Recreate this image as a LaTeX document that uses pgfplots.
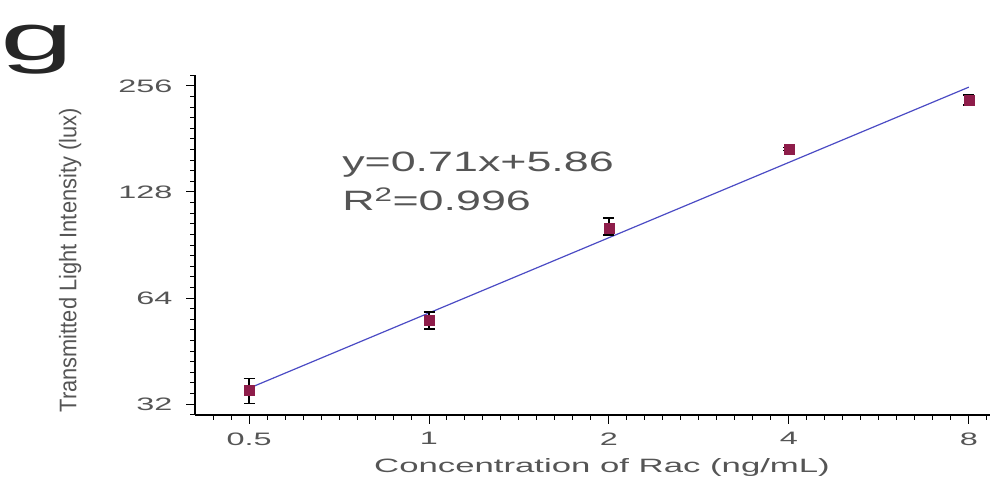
\documentclass[border=0pt]{standalone}
\usepackage{fontspec}
\setmainfont{Liberation Sans}
\usepackage{pgfplots}
\pgfplotsset{compat=1.18}
% widened faces for the labels
\newfontfamily\widefont[FakeStretch=1.8]{Liberation Sans}
\newfontfamily\letterfont[FakeStretch=2.0]{Liberation Sans}
\newfontfamily\eqfont[FakeStretch=1.6]{Liberation Sans}
\newfontfamily\ylabfont[FakeStretch=0.91]{Liberation Sans}
\definecolor{textgray}{HTML}{555555}
\definecolor{fitblue}{HTML}{4B4BC4}
\definecolor{markred}{HTML}{8E1D4A}

\begin{document}
\begin{tikzpicture}
\useasboundingbox (0,0) rectangle (995bp,490bp);
% panel letter
\node[anchor=base west, inner sep=0pt, text=black!85] at (0bp,429bp)
  {\fontsize{66bp}{66bp}\letterfont g};
\begin{axis}[
  at={(195bp,75bp)}, anchor=south west,
  scale only axis, width=795bp, height=340bp,
  xmode=log, ymode=log, log basis x=2, log basis y=2,
  xmin=0.406, xmax=8.68, ymin=29.8, ymax=275,
  axis lines*=left,
  axis line style={line width=1.2bp, black},
  tick align=outside,
  major tick length=9bp,
  tick style={line width=1bp, black},
  xtick={0.5,1,2,4,8}, xticklabels={0.5,1,2,4,8},
  ytick={32,64,128,256}, yticklabels={32,64,128,256},
  % nine short unlabelled ticks per doubling
  extra x ticks={0.4353,0.4665,
    0.5359,0.5743,0.6156,0.6598,0.7071,0.7579,0.8123,0.8706,0.9330,
    1.0718,1.1487,1.2311,1.3195,1.4142,1.5157,1.6245,1.7411,1.8661,
    2.1435,2.2974,2.4623,2.6390,2.8284,3.0314,3.2490,3.4822,3.7321,
    4.2871,4.5948,4.9246,5.2780,5.6569,6.0629,6.4980,6.9644,7.4643,
    8.5742},
  extra y ticks={29.857,
    34.297,36.758,39.396,42.224,45.255,48.503,51.984,55.715,59.714,
    68.594,73.517,78.793,84.449,90.510,97.006,103.97,111.43,119.43,
    137.19,147.03,157.59,168.90,181.02,194.01,207.94,222.86,238.86,
    274.37},
  extra x tick labels={}, extra y tick labels={},
  extra tick style={major tick length=5bp},
  tick label style={font=\fontsize{18bp}{18bp}\widefont, text=textgray},
  xticklabel style={yshift=-5bp},
  yticklabel style={xshift=-10bp},
  xlabel={Concentration of Rac (ng/mL)},
  ylabel={Transmitted Light Intensity (lux)},
  xlabel style={font=\fontsize{19.3bp}{19.3bp}\widefont, text=textgray,
    at={(rel axis cs:0.512,-0.153)}, anchor=center},
  ylabel style={font=\fontsize{24bp}{24bp}\ylabfont, text=textgray,
    at={(rel axis cs:-0.157,0.455)}, anchor=center},
  clip=false,
]
% linear fit in log2-log2 space
\addplot[fitblue, line width=1.2bp] coordinates {(0.5,35.5) (8,254.0)};
% measured means with error bars
\addplot[only marks, mark=square*, mark size=5bp, markred,
  error bars/.cd, y dir=both, y explicit,
  error bar style={black, line width=1.2bp},
  error mark options={rotate=90, black, mark size=5.5bp, line width=1.2bp}]
  coordinates {
  (0.5,35.1) += (0,2.8) -= (0,2.9)
  (1,55.4)   += (0,3.0) -= (0,3.1)
  (2,101.1)  += (0,6.9) -= (0,4.5)
  (4,169.6)  += (0,1.5) -= (0,1.5)
  (8,233.6)  += (0,7.8) -= (0,7.5)
};
\node[anchor=west, inner sep=0pt, text=textgray, font=\fontsize{28bp}{28bp}\eqfont]
  at (rel axis cs:0.185,0.735) {y=0.71x+5.86};
\node[anchor=west, inner sep=0pt, text=textgray, font=\fontsize{28bp}{28bp}\eqfont]
  at (rel axis cs:0.185,0.635) {R\textsuperscript{2}=0.996};
\end{axis}
\end{tikzpicture}
\end{document}
